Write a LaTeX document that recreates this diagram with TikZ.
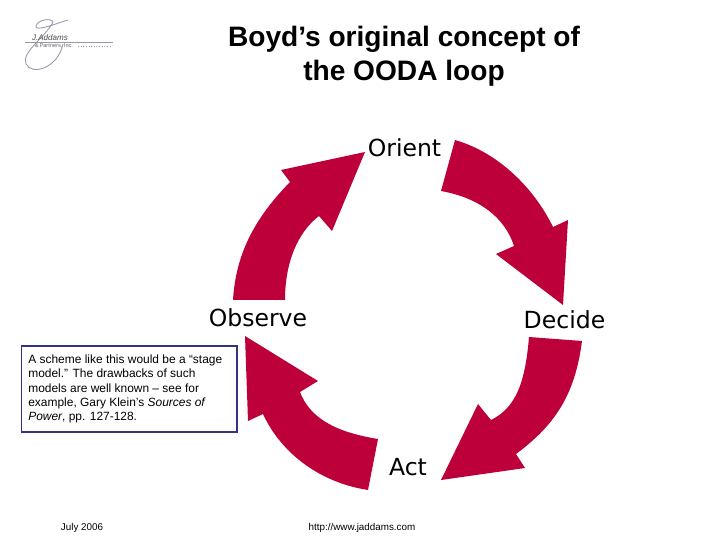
\documentclass[tikz,border=0pt]{standalone}
\usepackage{fontspec}
\setmainfont{Liberation Sans}
\newfontfamily\labelfont{DejaVu Sans}
\usepackage{tikz}
\definecolor{loopred}{HTML}{BE003A}
\definecolor{boxblue}{HTML}{333380}
\definecolor{inkgrey}{HTML}{9C98AC}
\begin{document}
\begin{tikzpicture}[x=0.02cm,y=-0.02cm]
  \tikzstyle{phase}=[inner sep=0pt,font=\labelfont\fontsize{13.4}{16}\selectfont]
  \tikzstyle{title}=[inner sep=0pt,align=center,font=\bfseries\fontsize{16}{19.3}\selectfont]
  \tikzstyle{footer}=[inner sep=0pt,font=\fontsize{5.6}{6}\selectfont]
  \tikzstyle{loop arrow}=[fill=loopred,draw=none]
  \tikzstyle{ink}=[draw=inkgrey,line width=0.5pt]
  \useasboundingbox (0,0) rectangle (720,540);
  % logo
  \draw [ink] (68,20) .. controls (55,24) and (35,32) .. (36,26)
    .. controls (38,19) and (52,18) .. (53,22)
    .. controls (45,38) and (21,52) .. (26,64)
    .. controls (32,76) and (58,68) .. (63,44);
  \draw [ink,line width=0.2pt] (25,42) -- (113,42);
  \draw [ink,densely dotted,line width=0.4pt] (78,46) -- (112,46);
  \node (addams) [inner sep=0pt,text=black!70,font=\itshape\fontsize{4.6}{5}\selectfont] at (50,38) {J.Addams};
  \node (partners) [inner sep=0pt,text=black!60,font=\fontsize{3.2}{4}\selectfont] at (54,45.5) {\&\,Partners, Inc.};
  % title
  \node (title) [title] at (404,56.5) {Boyd’s original concept of\\the OODA loop};
  % the four phases
  \node (orient) [phase] at (404.5,148) {Orient};
  \node (decide) [phase] at (564.5,320) {Decide};
  \node (act) [phase] at (408,467) {Act};
  \node (observe) [phase] at (258,318) {Observe};
  % arrows of the loop
  \fill [loop arrow] (233,300) .. controls (236,250) and (258,215) .. (290,182)
    -- (281,170) -- (365,152) -- (332,231) -- (319,216)
    .. controls (298,232) and (285,262) .. (285,300) -- cycle;
  \fill [loop arrow] (455,140) .. controls (500,153) and (535,190) .. (553,227)
    -- (568,220) -- (563,305) -- (496,254) -- (514,246)
    .. controls (505,218) and (480,198) .. (441,191) -- cycle;
  \fill [loop arrow] (582,341) .. controls (575,395) and (555,425) .. (516,454)
    -- (525,468) -- (441,480) -- (478,404) -- (491,420)
    .. controls (515,408) and (525,385) .. (529,337) -- cycle;
  \fill [loop arrow] (368,490) .. controls (322,483) and (282,455) .. (263,414)
    -- (248,421) -- (245,336) -- (318,381) -- (300,392)
    .. controls (310,418) and (335,432) .. (378,439) -- cycle;
  % remark
  \draw [draw=boxblue,line width=0.9pt,fill=white] (21.7,346) rectangle (237,432);
  \node (remark) [inner sep=0pt,anchor=west,align=left,font=\fontsize{6.8}{8.1}\selectfont] at (28,389)
    {A scheme like this would be a “stage\\ model.”  The drawbacks of such\\ models are well known -- see for\\ example, Gary Klein’s \textit{Sources of}\\ \textit{Power}, pp. 127-128.};
  % footer
  \node (date) [footer] at (82,528) {July 2006};
  \node (url) [footer] at (362,528) {http://www.jaddams.com};
\end{tikzpicture}
\end{document}
